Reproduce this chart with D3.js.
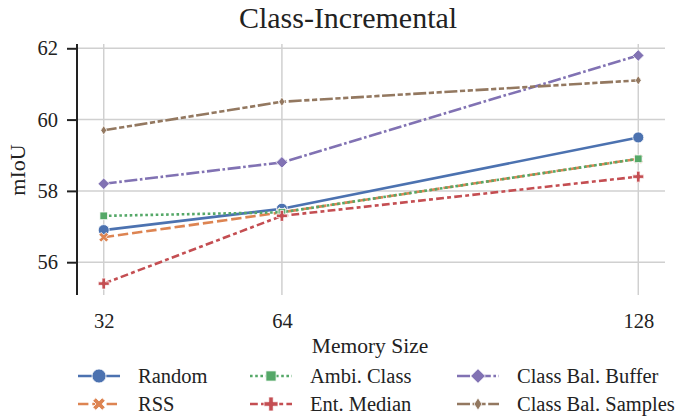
<!DOCTYPE html>
<html><head><meta charset="utf-8">
<script src="https://cdn.jsdelivr.net/npm/d3@7"></script>
<style>body{margin:0;background:#fff}svg{display:block}</style>
</head><body><svg id="c" width="677" height="418" font-family="Liberation Serif"></svg>
<script>
const memorySizes = [32, 64, 128];
const seriesNames = ["Random", "RSS", "Ambi. Class", "Ent. Median", "Class Bal. Buffer", "Class Bal. Samples"];
const random = [56.9, 57.5, 59.5];
const rss = [56.7, 57.4, 58.9];
const ambiClass = [57.3, 57.4, 58.9];
const entMedian = [55.4, 57.3, 58.4];
const classBalBuffer = [58.2, 58.8, 61.8];
const classBalSamples = [59.7, 60.5, 61.1];
const yTicks = [56, 58, 60, 62];
const colors = ["#4c72b0", "#dd8452", "#55a868", "#c44e52", "#8172b3", "#937860"];
const allValues = [random, rss, ambiClass, entMedian, classBalBuffer, classBalSamples];

const FONT = "Liberation Serif";
const TXT = "#222";
const lw = 2.6;
const dashes = ["", [4,1.5], [1,1], [3,1.25,1.5,1.25], [5,1,1,1], [5,1,2,1,2,1]].map(d => d === "" ? null : d.map(v => v*lw).join(","));
const markers = ["circle", "x", "square", "plus", "diamond", "thindiamond"];

const svg = d3.select("#c");
const L = 77, R = 665, T = 44, B = 295;
const x = d3.scaleLinear().domain([32-4.8, 128+4.8]).range([L, R]);
const allV = allValues.flat();
const ymin = d3.min(allV), ymax = d3.max(allV), pad = (ymax-ymin)*0.05;
const y = d3.scaleLinear().domain([ymin-pad, ymax+pad]).range([B, T]);

// grid
svg.append("g").selectAll("line").data(yTicks).join("line")
  .attr("x1", L).attr("x2", R).attr("y1", d=>y(d)).attr("y2", d=>y(d))
  .attr("stroke", "#d0d0d0").attr("stroke-width", 1.5);
svg.append("g").selectAll("line").data(memorySizes).join("line")
  .attr("x1", d=>x(d)).attr("x2", d=>x(d)).attr("y1", T).attr("y2", B)
  .attr("stroke", "#d0d0d0").attr("stroke-width", 1.5);

// y axis
const yAxis = d3.axisLeft(y).tickValues(yTicks).tickSize(10).tickPadding(9).tickFormat(d3.format("d"));
const gy = svg.append("g").attr("transform", `translate(${L},0)`).call(yAxis).attr("font-family", FONT);
gy.select(".domain").remove();
gy.append("line").attr("x1",0).attr("x2",0).attr("y1",y.range()[1]).attr("y2",y.range()[0]).attr("stroke",TXT).attr("stroke-width",2);
gy.selectAll(".tick line").attr("stroke",TXT).attr("stroke-width",2);
gy.selectAll(".tick text").attr("font-size",20.5).attr("fill",TXT).attr("font-family",FONT);

// x axis (labels only)
const xAxis = d3.axisBottom(x).tickValues(memorySizes).tickSize(0).tickPadding(18).tickFormat(d3.format("d"));
const gx = svg.append("g").attr("transform", `translate(0,${B})`).call(xAxis).attr("font-family", FONT);
gx.select(".domain").remove();
gx.selectAll(".tick text").attr("font-size",20.5).attr("fill",TXT).attr("font-family",FONT);

function markerPath(type, s) {
  const r = s/2;
  switch(type) {
    case "circle": return d3.symbol(d3.symbolCircle, Math.PI*r*r)();
    case "square": { const h=r*0.85; return `M${-h},${-h}H${h}V${h}H${-h}Z`; }
    case "diamond": { const h=r*1.05; return `M0,${-h}L${h},0L0,${h}L${-h},0Z`; }
    case "thindiamond": { const h=r*0.95, w=r*0.6; return `M0,${-h}L${w},0L0,${h}L${-w},0Z`; }
    case "plus": { const a=r, t=r*0.32; return `M${-t},${-a}H${t}V${-t}H${a}V${t}H${t}V${a}H${-t}V${t}H${-a}V${-t}H${-t}Z`; }
    case "x": { const a=r*0.95, t=r*0.3; const p=[[-t,-a],[t,-a],[t,-t],[a,-t],[a,t],[t,t],[t,a],[-t,a],[-t,t],[-a,t],[-a,-t],[-t,-t]];
      const rot = Math.PI/4; return "M"+p.map(([px,py])=>[(px*Math.cos(rot)-py*Math.sin(rot)).toFixed(2),(px*Math.sin(rot)+py*Math.cos(rot)).toFixed(2)].join(",")).join("L")+"Z"; }
  }
}

const line = d3.line().x((d,i)=>x(memorySizes[i])).y(d=>y(d));
const sizes = [11, 11, 9, 11, 11, 10];
allValues.forEach((vals, i) => {
  const g = svg.append("g");
  g.append("path").attr("d", line(vals)).attr("fill","none").attr("stroke", colors[i])
    .attr("stroke-width", lw).attr("stroke-dasharray", dashes[i]);
  g.selectAll("path.m").data(vals).join("path").attr("class","m")
    .attr("transform",(d,j)=>`translate(${x(memorySizes[j])},${y(d)})`)
    .attr("d", markerPath(markers[i], sizes[i]))
    .attr("fill", colors[i]).attr("stroke","#fff").attr("stroke-width",0.8);
});

// title and labels
svg.append("text").attr("x", 348).attr("y", 28).attr("text-anchor","middle").attr("font-size",30).attr("font-family",FONT).attr("fill",TXT).text("Class-Incremental");
svg.append("text").attr("transform","translate(25,170) rotate(-90)").attr("text-anchor","middle").attr("font-size",22).attr("font-family",FONT).attr("fill",TXT).text("mIoU");
svg.append("text").attr("x", 370).attr("y", 353).attr("text-anchor","middle").attr("font-size",21.5).attr("font-family",FONT).attr("fill",TXT).text("Memory Size");

// legend
const legX = [78, 250, 457], legY = [376, 404];
seriesNames.forEach((name, i) => {
  const col = Math.floor(i/2), row = i%2;
  const lx = legX[col], ly = legY[row];
  const g = svg.append("g");
  g.append("line").attr("x1", lx).attr("x2", lx+42).attr("y1", ly).attr("y2", ly)
    .attr("stroke", colors[i]).attr("stroke-width", lw).attr("stroke-dasharray", dashes[i]);
  g.append("path").attr("transform",`translate(${lx+21},${ly})`).attr("d", markerPath(markers[i], sizes[i]+3))
    .attr("fill", colors[i]).attr("stroke","#fff").attr("stroke-width",0.8);
  g.append("text").attr("x", lx+60).attr("y", ly+7).attr("font-size",20.5).attr("font-family",FONT).attr("fill",TXT).text(name);
});
</script></body></html>
